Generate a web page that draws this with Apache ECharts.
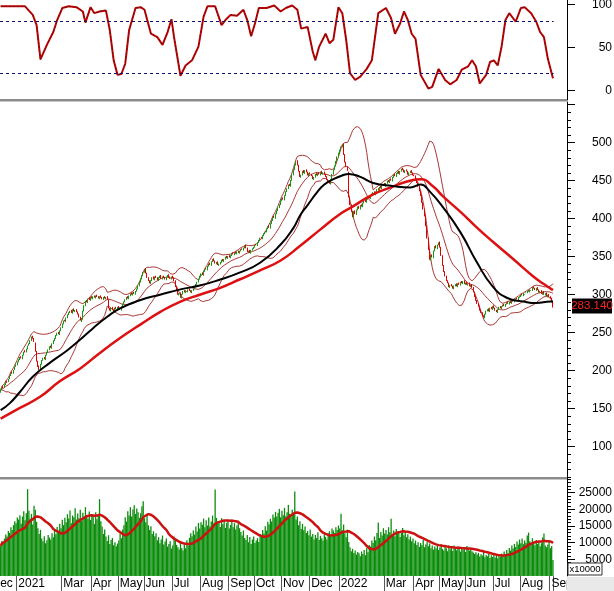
<!DOCTYPE html>
<html>
<head>
<meta charset="utf-8">
<script src="https://cdn.jsdelivr.net/npm/echarts@6/dist/echarts.min.js"></script>
<style>
  html, body { margin: 0; padding: 0; background: #fff; }
  #chart { width: 614px; height: 591px; }
</style>
</head>
<body>
<div id="chart"></div>
<script>
// trading days shown per month (first month is cut at the left edge)
const monthNames = ['Dec','Jan','Feb','Mar','Apr','May','Jun','Jul','Aug','Sep','Oct','Nov','Dec','Jan','Feb','Mar','Apr','May','Jun','Jul','Aug','Sep']
const monthYears = [2020,2021,2021,2021,2021,2021,2021,2021,2021,2021,2021,2021,2021,2022,2022,2022,2022,2022,2022,2022,2022,2022]
const monthDays = [13,20,15,23,21,20,22,22,22,20,21,22,23,19,16,23,20,20,22,21,23,3]

// daily closes, one row per month
const closes = [
  175,178,177,182,185,184,189,193,197,196,201,205,208,
  212,215,218,216,221,225,224,229,233,236,240,245,242,238,225,212,205,201,209,214,
  217,215,221,225,228,232,230,236,240,243,247,250,248,253,257,
  262,266,265,270,274,277,279,276,281,278,280,277,274,270,266,268,279,286,292,290,295,293,297,
  295,298,296,299,297,295,298,296,294,297,295,297,293,282,279,283,280,278,283,281,284,
  282,280,285,288,291,294,297,295,299,302,300,303,301,305,308,312,317,321,326,330,
  334,328,322,318,315,319,323,320,324,322,319,323,325,321,324,322,320,324,326,323,321,324,
  322,318,310,305,300,302,296,301,305,303,306,304,307,305,303,306,308,311,314,317,321,325,
  328,326,331,334,333,338,341,339,344,347,344,341,343,339,341,343,346,344,347,350,348,351,
  349,352,355,353,356,354,357,355,358,360,359,362,365,361,356,358,355,359,361,363,
  366,365,369,372,375,374,378,381,383,387,390,388,394,398,403,401,407,411,415,419,424,
  427,425,431,436,440,445,443,451,458,465,471,476,470,462,455,458,463,460,464,461,457,460,
  458,456,452,455,459,457,460,458,462,459,461,458,455,451,449,446,452,459,465,470,476,482,487,
  491,495,498,484,474,468,463,428,418,409,402,410,406,412,416,413,418,416,421,
  424,422,426,429,427,431,433,435,432,436,439,437,442,440,444,446,
  443,447,450,448,452,450,455,458,456,460,462,459,463,466,464,461,464,462,458,461,463,460,457,
  456,452,447,442,436,430,421,412,403,390,374,359,346,352,349,358,364,361,366,369,
  362,351,338,330,324,318,315,310,313,311,308,312,314,311,315,313,317,315,318,314,
  316,313,315,311,313,309,303,297,292,288,284,279,276,272,270,275,279,281,278,283,281,285,
  282,279,277,281,284,282,285,287,285,288,290,288,291,289,292,291,293,295,294,297,298,
  300,299,302,301,303,305,304,307,306,310,308,306,309,306,303,305,301,304,300,302,298,300,297,
  295,290,283.14
]

// daily opens, same layout
const opens = [
  171,175,180,178,181,187,185,189,193,199,196,201,205,
  207,211,214,219,215,220,227,224,228,233,235,239,246,243,237,226,213,207,200,208,
  213,218,214,220,224,227,233,229,235,239,242,246,251,247,252,
  256,261,267,264,269,273,276,280,275,282,277,281,278,275,271,264,267,278,285,293,289,296,292,
  298,294,299,295,300,298,294,299,297,293,298,294,298,294,283,278,284,281,277,284,280,
  285,283,279,284,287,290,293,298,294,298,303,299,304,300,304,307,311,316,320,325,
  329,335,329,323,319,314,318,324,319,325,323,318,322,326,320,325,323,319,323,327,324,320,
  325,323,319,311,306,299,303,295,300,306,302,305,303,308,306,302,305,307,310,313,316,320,
  324,329,325,330,335,332,337,342,338,343,348,345,340,344,338,340,342,347,343,346,351,347,
  352,348,351,356,352,357,353,358,354,357,361,358,361,366,362,355,359,354,358,360,
  362,367,364,368,371,376,373,377,380,382,386,391,387,393,397,404,400,406,410,414,418,
  423,428,424,430,435,439,446,442,450,457,464,470,477,471,463,454,457,464,459,465,462,456,
  461,459,457,451,454,460,456,461,457,463,458,462,459,456,452,450,445,451,458,464,469,475,481,
  486,490,494,499,485,475,469,462,429,419,410,401,411,405,411,417,412,419,415,
  420,425,421,425,430,426,430,432,436,431,435,440,436,443,439,443,
  447,442,446,451,447,453,449,454,459,455,459,463,458,462,467,465,460,465,463,457,460,464,461,
  458,457,453,448,443,437,431,422,413,404,391,375,360,345,353,348,357,365,360,365,
  370,363,352,339,331,325,319,316,309,314,312,307,311,315,310,316,312,318,314,319,
  313,317,312,316,310,314,310,304,298,293,289,285,280,277,273,269,274,278,282,277,284,280,
  286,283,280,276,280,285,281,284,288,284,287,291,287,292,288,293,290,292,296,293,296,
  297,301,298,300,302,302,306,303,305,305,311,309,305,310,307,302,306,300,305,299,303,297,301,
  298,296,291
]

// daily volume (x10000)
const volumes = [
  9000,10500,9800,11200,12400,11800,13500,12900,14600,13800,
  15200,16400,15800,17500,16900,18200,15600,17800,19400,16700,
  18800,26000,19500,17200,18600,15400,21000,19800,16200,14300,
  12600,13800,11200,10400,11900,9800,10700,12300,11500,10900,
  12800,11600,13900,12500,14700,13200,15600,14300,16800,15200,
  17400,16100,18500,17200,19600,15800,18100,17600,20300,16900,
  18700,17300,19800,16500,18900,17800,20600,18200,17100,19300,
  16800,18400,17900,15600,19100,17000,18300,23000,16400,14800,
  12600,13900,11800,10500,12200,9600,10800,11400,9200,10100,
  8900,9700,10600,12800,11300,13900,15200,17600,16300,19400,
  18100,20600,17800,19900,21200,18600,20200,19100,17400,18800,
  20900,22400,17300,16100,18500,15200,13800,14900,12600,13400,
  11900,12800,10700,11600,9800,10900,12100,9400,10300,11200,
  8800,9600,10400,8200,9100,11800,10600,9300,8600,7900,
  10200,8400,7600,9500,8300,10700,9100,11400,12800,11900,
  13600,12400,14800,13300,15900,14200,16100,15300,17200,14600,
  16700,15100,17500,14900,16300,18100,15700,25900,17400,15800,
  16200,14700,17300,15500,16800,14400,15900,16600,14200,15300,
  16900,14600,15800,13900,15100,16400,14300,13200,12100,13600,
  11400,10800,12300,10100,11700,9600,10900,11800,9900,10600,
  11300,10200,12600,11900,13800,12700,14900,13600,16200,15400,
  17100,16300,18400,17500,19200,17800,18900,20100,17600,19500,
  18200,20400,17900,19100,21300,18600,17700,19800,18400,25300,
  16900,17800,15200,16400,14100,15600,13700,14800,12900,13500,
  12200,13900,11800,12600,10900,12300,11400,13100,10800,12000,
  11300,10600,12400,11700,10900,12800,13400,12100,14200,13600,
  12900,14600,13800,15100,14200,18600,13700,15400,12800,11600,
  13900,10200,8600,7400,8100,6900,7600,6400,7200,6800,
  5900,7300,6600,7800,6200,8400,7100,9300,8800,10600,
  9900,11800,10700,12900,16000,11400,13200,12100,14300,12700,
  13800,12400,14600,13100,17100,12300,13600,11900,14100,12800,
  13500,11700,12900,14400,12200,13300,11600,12500,10900,11800,
  10400,11200,9800,10600,9300,10100,8700,9900,9200,10800,
  8600,9400,10200,8900,9700,8300,9100,7900,8800,8200,
  9300,7800,8600,9500,8100,7600,8900,8300,7400,9200,
  8000,8700,7500,9100,8400,7700,8800,8200,7300,8600,
  7900,8500,7200,9000,8100,7600,8300,7400,7000,6600,
  7100,6400,6900,5800,6500,6100,7200,5600,6300,5900,
  6600,5400,6200,5700,6800,5500,6100,5300,6400,5800,
  6700,6000,7300,6500,7800,6900,8400,7600,9100,8200,
  9600,8700,10300,9400,10900,9800,11200,9500,10600,9900,
  12100,13000,10400,9700,11300,10100,9200,10800,9600,10200,
  8900,9800,11500,12700,9100,8600,9400,10400,8300,9000,
  4800
]

// moving averages (trading day index -> value)
const ma50Days = [0,7,15,25,38,52,62,72,83,93,109,124,140,155,171,186,202,218,228,233,239,246,252,259,266,271,280,290,305,319,327,334,344,358,371,383,394,407,417,428,430]
const ma50Vals = [148,157,172,192,210,227,241,256,271,282,293,300,307,312,320,329,342,366,388,404,418,434,445,452,457,459,455,447,443,441,445,436,416,382,342,311,296,291,289,291,291]
const ma100Days = [0,15,31,46,62,77,93,109,124,140,155,171,186,202,218,233,249,264,274,290,305,321,327,337,344,358,371,383,399,414,422,430]
const ma100Vals = [137,151,166,186,203,223,243,261,277,291,300,309,320,332,345,364,386,406,416,432,442,451,452,442,430,409,388,370,347,325,315,306]

// oscillator in the top panel
const oscDays = [0,19,25,28,31,36,41,44,48,53,59,64,66,70,73,77,82,85,88,91,94,97,100,105,109,112,117,122,126,130,133,135,140,144,149,154,158,161,167,172,175,179,184,189,192,195,198,201,207,213,218,222,227,231,234,239,243,245,248,253,256,259,263,266,269,272,276,280,285,289,294,300,304,307,311,314,317,320,323,327,333,336,341,346,350,355,359,364,367,370,373,378,381,384,387,390,393,396,401,405,408,413,417,420,423,426,430]
const oscValues = [98,98,88,76,36,53,68,82,96,98,97,92,79,97,90,92,93,70,35,18,19,31,70,96,97,94,66,62,53,68,83,62,17,29,35,51,86,98,98,76,82,88,87,94,82,63,78,96,96,99,92,96,99,94,72,74,45,35,51,66,55,59,97,90,59,20,12,16,25,35,90,96,84,66,78,92,82,66,60,18,2,4,25,12,7,12,24,28,35,28,8,18,33,35,29,51,82,90,80,96,97,90,80,68,62,37,14]
const oscLevels = [20, 80]

// axis ticks
const oscTicks = [0, 50, 100]
const priceLabels = [100,150,200,250,300,350,400,450,500]
const priceTicks = [100,150,200,250,300,350,400,450,500,550]
const volLabels = [5000,10000,15000,20000,25000]

const fontFamily = 'Liberation Sans, Arial, sans-serif'
const plotW = 553.6
const axisOffset = 13.4

let priceMinor = []
for (let v = 60; v <= 550; v += 10) priceMinor.push(v)
let volMinor = []
for (let v = 1000; v <= 29000; v += 1000) volMinor.push(v)

// categories, one per trading day
let categories = []
let monthStart = {}
monthNames.forEach((m, k) => {
  monthStart[categories.length] = k
  for (let d = 1; d <= monthDays[k]; d++) categories.push(m + ' ' + monthYears[k] + ' ' + d)
})
function isLabelDay(index) {
  let k = monthStart[index]
  return k !== undefined && k > 0 && monthNames[k] !== 'Feb'
}
function monthLabel(value, index) {
  let k = monthStart[index]
  if (k === undefined) return ''
  return monthNames[k] === 'Jan' ? String(monthYears[k]) : monthNames[k]
}

// bollinger 20,2 and volume average
function bollinger(data, n, k) {
  let mid = [], up = [], low = []
  data.forEach((v, i) => {
    let win = data.slice(Math.max(0, i - n + 1), i + 1)
    let m = win.reduce((a, b) => a + b, 0) / win.length
    let sd = Math.sqrt(win.reduce((a, b) => a + (b - m) * (b - m), 0) / win.length)
    mid.push(+m.toFixed(2))
    up.push(+(m + k * sd).toFixed(2))
    low.push(+(m - k * sd).toFixed(2))
  })
  return {mid, up, low}
}
function movingAvg(data, n) {
  return data.map((v, i) => {
    let win = data.slice(Math.max(0, i - n + 1), i + 1)
    return Math.round(win.reduce((a, b) => a + b, 0) / win.length)
  })
}
const bb = bollinger(closes, 20, 2)
const volMa = movingAvg(volumes, 20)
const candles = closes.map((c, i) => [opens[i], c, Math.min(opens[i], c), Math.max(opens[i], c)])
const pairs = (days, vals) => days.map((d, i) => [d, vals[i]])

function sideAxis(grid, min, max, ticks, labels, tickLen, withLine) {
  return {
    type: 'value', gridIndex: grid, position: 'right', offset: axisOffset, min: min, max: max,
    axisLine: {show: withLine, lineStyle: {color: '#000', width: 1}},
    axisTick: {show: true, length: tickLen, customValues: ticks, lineStyle: {color: '#000'}},
    axisLabel: labels ? {show: true, customValues: labels, align: 'right', margin: 45,
      formatter: v => String(v),
      color: '#000', fontSize: 12, fontFamily: fontFamily} : {show: false},
    splitLine: {show: false}
  }
}

function thinLine(name, data, color) {
  return {name, type: 'line', xAxisIndex: 1, yAxisIndex: 1, data, symbol: 'none', z: 2,
    lineStyle: {color: color, width: 0.9}}
}

function maLine(name, data, color, width, z) {
  return {name, type: 'line', xAxisIndex: 1, yAxisIndex: 1, data, symbol: 'none',
    smooth: 0.5, z: z, lineStyle: {color: color, width: width}}
}

let graphic = [
  {type: 'rect', shape: {x: 0, y: 99, width: 567, height: 2.5}, style: {fill: '#8c8c8c'}, z: 100},
  {type: 'rect', shape: {x: 0, y: 477, width: 567, height: 2.5}, style: {fill: '#8c8c8c'}, z: 100},
  {type: 'text', x: -8.5, y: 578, z: 100,
    style: {text: 'Dec', fill: '#000', font: '12px ' + fontFamily, textAlign: 'left', textVerticalAlign: 'top', verticalAlign: 'top'}},
  {type: 'rect', shape: {x: 567, y: 577, width: 47, height: 14}, style: {fill: '#e9e9e9'}, z: 100},
  {type: 'rect', shape: {x: 568, y: 563, width: 34, height: 12}, style: {fill: '#fff', stroke: '#333', lineWidth: 1}, z: 100},
  {type: 'text', x: 585, y: 569, z: 101,
    style: {text: 'x10000', fill: '#000', font: '9.5px ' + fontFamily, textAlign: 'center', textVerticalAlign: 'middle', verticalAlign: 'middle'}}
]

const option = {
  animation: false,
  backgroundColor: '#fff',
  grid: [
    {left: 0, top: 0, width: plotW, height: 100},
    {left: 0, top: 102, width: plotW, height: 376},
    {left: 0, top: 478, width: plotW, height: 97.9}
  ].map(g => Object.assign(g, {containLabel: false, outerBoundsMode: 'none', show: false})),
  xAxis: [0, 1, 2].map(k => ({
    type: 'category', gridIndex: k, data: categories, boundaryGap: true,
    show: k === 2,
    axisLine: {show: false},
    axisTick: {show: true, interval: isLabelDay, length: 15, lineStyle: {color: '#555'}},
    axisLabel: {interval: isLabelDay, formatter: monthLabel, align: 'left', margin: 2, padding: [0, 0, 0, 1],
      color: '#000', fontSize: 12, fontFamily: fontFamily},
    splitLine: {show: false}
  })),
  yAxis: [
    sideAxis(0, -11.32, 105.37, oscTicks, oscTicks, 8, true),
    sideAxis(1, 58.8, 553.6, priceTicks, priceLabels, 8, true),
    sideAxis(1, 58.8, 553.6, priceMinor, null, 4, false),
    sideAxis(2, 0, 29355, volLabels, volLabels, 8, true),
    sideAxis(2, 0, 29355, volMinor, null, 4, false)
  ],
  series: [
    {
      name: 'osc', type: 'line', xAxisIndex: 0, yAxisIndex: 0, data: pairs(oscDays, oscValues),
      symbol: 'none', lineStyle: {color: '#c80000', width: 2},
      markLine: {silent: true, symbol: 'none', label: {show: false},
        lineStyle: {color: '#101070', type: [3, 3], width: 1},
        data: oscLevels.map(v => ({yAxis: v}))}
    },
    {
      name: 'osc2', type: 'line', xAxisIndex: 0, yAxisIndex: 0, data: pairs(oscDays, oscValues),
      symbol: 'none', lineStyle: {color: '#222', width: 0.7, type: [2, 2]}
    },
    thinLine('bbUp', bb.up, '#a02020'),
    thinLine('bbMid', bb.mid, '#a02020'),
    thinLine('bbLow', bb.low, '#a02020'),
    {
      name: 'price', type: 'candlestick', xAxisIndex: 1, yAxisIndex: 1, data: candles,
      barWidth: 1, z: 3,
      itemStyle: {color: '#119911', color0: '#e00000', borderColor: '#119911', borderColor0: '#e00000', borderWidth: 1}
    },
    maLine('MA100', pairs(ma100Days, ma100Vals), '#dd1111', 2.5, 4),
    maLine('MA50', pairs(ma50Days, ma50Vals), '#000', 2, 5),
    {
      name: 'volume', type: 'bar', xAxisIndex: 2, yAxisIndex: 3, data: volumes,
      barCategoryGap: '0%', itemStyle: {color: '#0a8c0a'}
    },
    {
      name: 'volMA', type: 'line', xAxisIndex: 2, yAxisIndex: 3, data: volMa,
      symbol: 'none', z: 4, lineStyle: {color: '#cc1111', width: 2.5}
    }
  ],
  graphic: graphic
}

const chart = echarts.init(document.getElementById('chart'))
chart.setOption(option)

// last price tag on the price axis
const lastClose = closes[closes.length - 1]
const tagY = chart.convertToPixel({yAxisIndex: 1}, lastClose)
graphic.push(
  {type: 'rect', shape: {x: 572, y: tagY - 9, width: 40, height: 15}, style: {fill: '#000'}, z: 110},
  {type: 'text', x: 592, y: tagY - 1.5, z: 111,
    style: {text: lastClose.toFixed(3), fill: '#ff2222', font: '11.5px ' + fontFamily, textAlign: 'center', textVerticalAlign: 'middle', verticalAlign: 'middle'}}
)
chart.setOption({graphic: graphic})
window.addEventListener('resize', () => { chart.resize() })
</script>
</body>
</html>
